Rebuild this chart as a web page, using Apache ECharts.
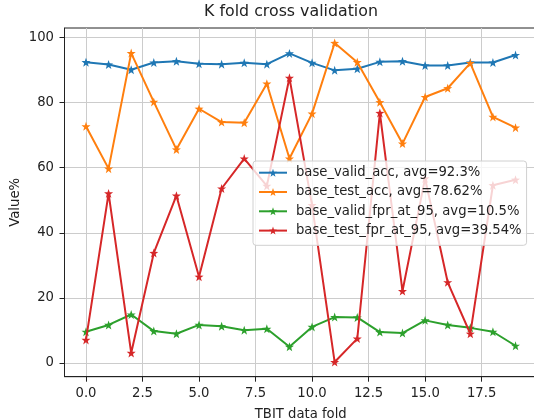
<!DOCTYPE html>
<html>
<head>
<meta charset="utf-8">
<script src="https://cdn.jsdelivr.net/npm/echarts@6/dist/echarts.min.js"></script>
<style>html,body{margin:0;padding:0;background:#fff;}#c{width:534px;height:420px;}</style>
</head>
<body>
<div id="c"></div>
<script>
const folds = [0,1,2,3,4,5,6,7,8,9,10,11,12,13,14,15,16,17,18,19];
const baseValidAcc = [92.4,91.7,90.1,92.3,92.7,91.9,91.8,92.2,91.8,95.1,92.2,89.9,90.4,92.5,92.7,91.4,91.4,92.3,92.3,94.6];
const baseTestAcc = [72.7,59.7,95.2,80.2,65.6,78.1,74.0,73.8,85.8,62.8,76.6,98.3,92.4,80.1,67.4,81.7,84.4,92.1,75.6,72.3];
const baseValidFpr = [9.6,11.7,14.9,9.8,9.0,11.7,11.3,10.1,10.5,5.0,11.1,14.1,14.0,9.5,9.2,13.1,11.7,10.8,9.6,5.3];
const baseTestFpr = [7.1,52.1,3.1,33.8,51.4,26.5,53.6,62.8,54.4,87.6,48.5,0.3,7.5,76.8,22.1,56.7,24.8,9.0,54.6,56.3];
const seriesNames = ['base_valid_acc, avg=92.3%','base_test_acc, avg=78.62%','base_valid_fpr_at_95, avg=10.5%','base_test_fpr_at_95, avg=39.54%'];
const xTicks = [0,2.5,5,7.5,10,12.5,15,17.5];
const yTicks = [0,20,40,60,80,100];
const colors = ['#1f77b4','#ff7f0e','#2ca02c','#d62728'];

const star = 'path://M0,-10L2.35,-3.24L9.51,-3.09L3.8,1.24L5.88,8.09L0,4L-5.88,8.09L-3.8,1.24L-9.51,-3.09L-2.35,-3.24Z';
const font = 'DejaVu Sans';
const fs = 13.2;
const allData = [baseValidAcc, baseTestAcc, baseValidFpr, baseTestFpr];

const chart = echarts.init(document.getElementById('c'), null, {renderer:'canvas'});
chart.setOption({
  animation: false,
  backgroundColor: '#fff',
  color: colors,
  title: {
    text: 'K fold cross validation',
    left: 291, top: 4, textAlign: 'center', padding: 0,
    textStyle: {fontFamily: font, fontSize: 15.8, fontWeight: 'normal', color: '#222'}
  },
  grid: {left: 64.5, top: 28, right: -3, bottom: 43.3, containLabel: false, outerBoundsMode: 'none',
    show: true, borderColor: '#222', borderWidth: 1, backgroundColor: 'transparent'},
  legend: {
    orient: 'vertical', left: 253, top: 161, z: 20,
    padding: [4.2, 5, 7.2, 5],
    itemGap: 4.3, itemWidth: 28, itemHeight: 10,
    backgroundColor: 'rgba(255,255,255,0.8)', borderColor: '#d0d0d0', borderWidth: 1, borderRadius: 3,
    textStyle: {fontFamily: font, fontSize: fs, color: '#222', lineHeight: 15, padding: [0,0,0,4]},
    data: seriesNames
  },
  xAxis: {
    type: 'value', min: -0.95, max: 19.95,
    name: 'TBIT data fold', nameLocation: 'middle', nameGap: 31,
    nameTextStyle: {fontFamily: font, fontSize: fs, color: '#222'},
    axisLine: {show: true, onZero: false, lineStyle: {color: '#222', width: 1}},
    axisTick: {show: true, inside: false, length: 5, customValues: xTicks, lineStyle: {color: '#222'}},
    axisLabel: {customValues: xTicks, margin: 10.5, fontFamily: font, fontSize: fs, color: '#222', formatter: v => v.toFixed(1)},
    splitLine: {show: true, lineStyle: {color: '#cccccc', width: 1}}
  },
  yAxis: {
    type: 'value', min: -4.2, max: 102.9,
    name: 'Value%', nameLocation: 'middle', nameGap: 42, nameRotate: 90, nameMoveOverlap: false,
    nameTextStyle: {fontFamily: font, fontSize: fs, color: '#222'},
    axisLine: {show: true, onZero: false, lineStyle: {color: '#222', width: 1}},
    axisTick: {show: true, length: 5, customValues: yTicks, lineStyle: {color: '#222'}},
    axisLabel: {customValues: yTicks, margin: 10.5, fontFamily: font, fontSize: fs, color: '#222'},
    splitLine: {show: true, lineStyle: {color: '#cccccc', width: 1}}
  },
  series: seriesNames.map((n, k) => ({
    name: n, type: 'line',
    data: folds.map((f, i) => [f, allData[k][i]]),
    symbol: star, symbolSize: 9,
    lineStyle: {width: 2, color: colors[k]},
    itemStyle: {color: colors[k]},
    z: 2 + k
  }))
});
</script>
</body>
</html>
